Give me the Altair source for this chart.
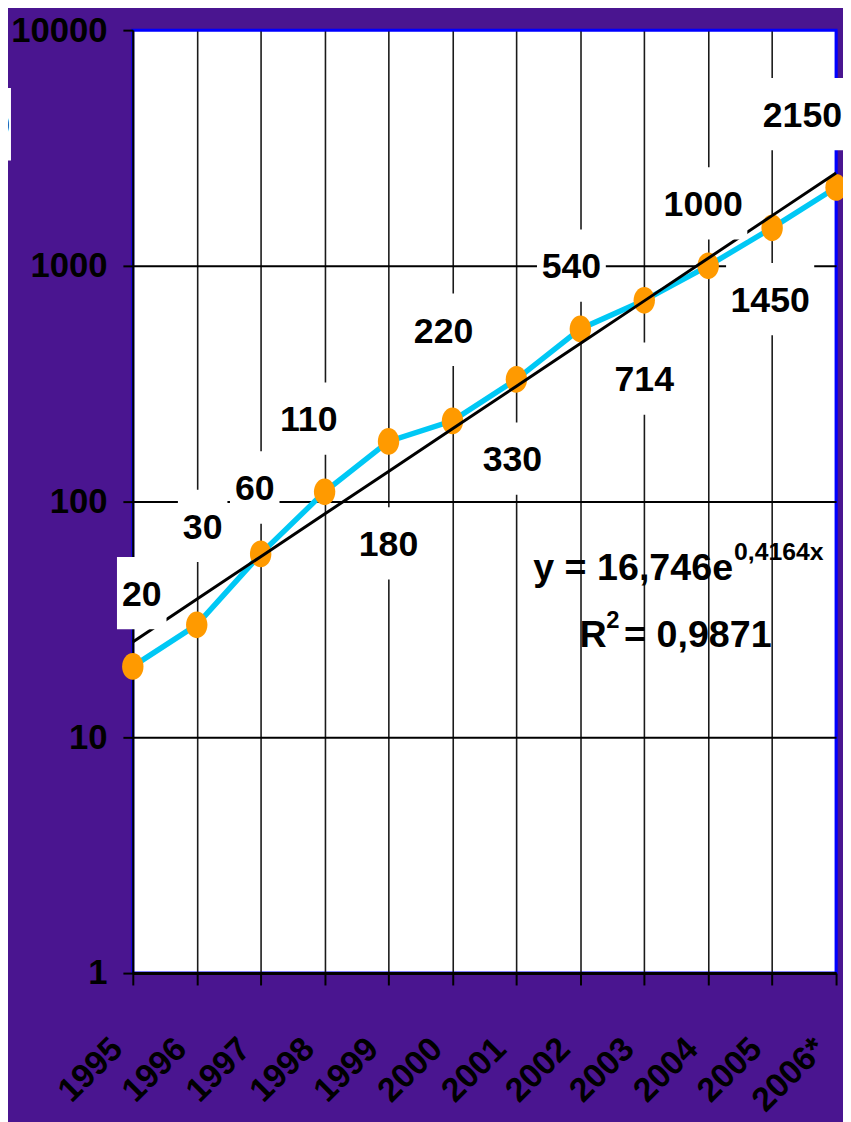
import math
import altair as alt
import pandas as pd

# ---- data ----
YEARS = ["1995", "1996", "1997", "1998", "1999", "2000",
         "2001", "2002", "2003", "2004", "2005", "2006*"]
VALUES = [20, 30, 60, 110, 180, 220, 330, 540, 714, 1000, 1450, 2150]
LABELS = [str(v) for v in VALUES]
Y_TICKS = [1, 10, 100, 1000, 10000]

# trend equation printed on the chart: y = a * e^(b x), x = 1..12
TREND_A = 16.746
TREND_B = 0.4164
R2 = 0.9871

# label placement (pixel offsets from each point)
LABEL_DX = [9, 6, -6, -16, 0, -9, -4, -9, 0, -5, -2, -34]
LABEL_DY = [-74, -100, -67, -74, 103, -92, 80, -64, 79, -63, 72, -74]

# ---- styles ----
FONT = "Liberation Sans"
PURPLE = "#4a1590"
CYAN = "#00c8f5"
ORANGE = "#ff9a00"
W, H = 710, 952
BOX_H = 73


def box_path(n, dx=0.0, dy=0.0):
    """White label box as a symbol path; unit = BOX_H/2 pixels."""
    u = BOX_H / 2
    a = (19.5 * n + 11) / BOX_H
    cx, cy = dx / u, dy / u
    return (f"M{cx - a:.3f},{cy - 1:.3f}H{cx + a:.3f}"
            f"V{cy + 1:.3f}H{cx - a:.3f}Z")


df = pd.DataFrame({"year": YEARS, "value": VALUES})
trend_df = pd.DataFrame({
    "year": YEARS,
    "trend": [TREND_A * math.exp(TREND_B * (i + 1)) for i in range(len(YEARS))],
})
lab_df = pd.DataFrame({
    "year": YEARS, "value": VALUES, "label": LABELS,
    "dx": LABEL_DX, "dy": LABEL_DY,
    "box": [box_path(len(s), dx, dy) for s, dx, dy in zip(LABELS, LABEL_DX, LABEL_DY)],
})

x_axis = alt.Axis(
    title=None, grid=True,
    gridColor=alt.condition("datum.value === '2006*'", alt.value("#0000ff"), alt.value("#1a1a1a")),
    gridWidth=1.6,
    labelAngle=-45, labelAlign="right", labelBaseline="middle",
    labelPadding=59, labelOffset=-16,
    labelFont=FONT, labelFontSize=34, labelFontWeight="bold", labelColor="black",
    labelOverlap=False,
    tickSize=12, tickWidth=2, tickColor="black",
    domainColor="black", domainWidth=3,
)
y_axis = alt.Axis(
    title=None, values=Y_TICKS, format="d", grid=True,
    gridColor=alt.condition("datum.value === 10000", alt.value("#0000ff"), alt.value("black")),
    gridWidth=2,
    labelFont=FONT, labelFontSize=35, labelFontWeight="bold", labelColor="black",
    labelPadding=16, labelOverlap=False,
    tickSize=10, tickWidth=2, tickColor="black",
    domainColor="black", domainWidth=2,
)

X = alt.X("year:N", sort=YEARS, scale=alt.Scale(type="point", padding=0), axis=x_axis)
YSCALE = alt.Scale(type="log", domain=[1, 10000])

line = alt.Chart(df).mark_line(color=CYAN, strokeWidth=5.5).encode(
    x=X, y=alt.Y("value:Q", scale=YSCALE, axis=y_axis)
)
points = alt.Chart(df).mark_point(
    filled=True, color=ORANGE, opacity=1, size=27 * 27,
    shape="M0,-1A0.8,1 0 1,1 0,1A0.8,1 0 1,1 0,-1Z",
).encode(x=X, y=alt.Y("value:Q", scale=YSCALE, axis=y_axis))

trend = alt.Chart(trend_df).mark_line(color="black", strokeWidth=3).encode(
    x=X, y=alt.Y("trend:Q", scale=YSCALE, axis=y_axis)
)

boxes = alt.Chart(lab_df).mark_point(
    filled=True, color="white", opacity=1, size=BOX_H * BOX_H
).encode(
    x=X, y=alt.Y("value:Q", scale=YSCALE, axis=y_axis),
    shape=alt.Shape("box:N", scale=None),
)
texts = alt.Chart(lab_df).mark_text(
    font=FONT, fontSize=36, fontWeight="bold", color="black",
    align="center", baseline="middle",
    dx={"expr": "datum.dx"}, dy={"expr": "datum.dy + 2"},
).encode(
    x=X, y=alt.Y("value:Q", scale=YSCALE, axis=y_axis),
    text="label:N",
)

eq_main = f"y = {TREND_A:.3f}".replace(".", ",") + "e"
eq_exp = f"{TREND_B:.4f}".replace(".", ",") + "x"
r2_txt = "= " + f"{R2:.4f}".replace(".", ",")

ann = pd.DataFrame({"t": [eq_main, eq_exp, "R", "2", r2_txt, "0"]})


def ann_text(i, x, y, size, align, baseline="alphabetic"):
    return alt.Chart(ann.iloc[[i]]).mark_text(
        font=FONT, fontSize=size, fontWeight="bold", color="black",
        align=align, baseline=baseline,
    ).encode(x=alt.value(x), y=alt.value(y), text="t:N")


eq1 = ann_text(0, 606, 555, 38, "right")
eq2 = ann_text(1, 607, 535, 25, "left")
r1 = ann_text(2, 451, 623, 38, "left")
r2 = ann_text(3, 478, 604, 24, "left")
r3 = ann_text(4, 496, 623, 38, "left")

cut_box = alt.Chart(ann.iloc[[5]]).mark_point(
    filled=True, color="white", opacity=1, size=BOX_H * BOX_H, shape=box_path(2)
).encode(x=alt.value(-148), y=alt.value(95))
cut_txt = ann_text(5, -124, 97, 36, "right", "middle")

chart = alt.layer(
    line, points, trend, boxes, texts, eq1, eq2, r1, r2, r3, cut_box, cut_txt
).properties(
    width=W, height=H,
    background=PURPLE,
    padding={"left": 126, "top": 17, "right": 7, "bottom": 145},
    autosize=alt.AutoSizeParams(type="none"),
).configure_view(
    fill="white", stroke="#0000ff", strokeWidth=3
)

chart.save("out.html", embed_options={"renderer": "svg", "actions": False})
